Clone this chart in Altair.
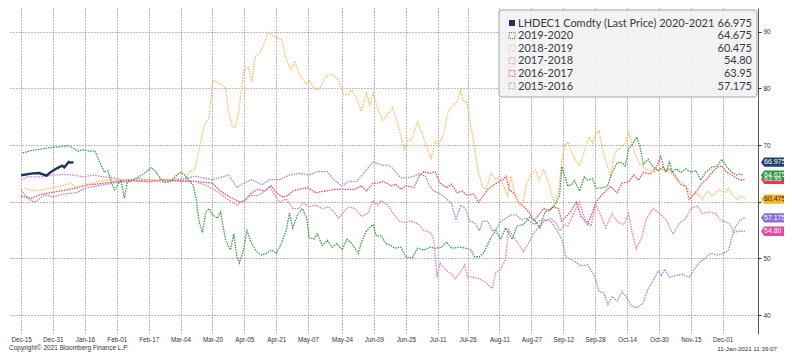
import altair as alt
import pandas as pd

W, H = 750, 326
START = pd.Timestamp("2015-12-15", tz="UTC")

# ---------------- data (day offset from Dec-15, price) ----------------
d_2021 = [0, 5, 9, 12.8, 14.8, 18, 20.6, 21.7, 23.9, 24.7, 26.3]
v_2021 = [64.67, 64.96, 65.06, 64.6, 65.2, 65.9, 66.36, 66.07, 67.03, 66.9, 66.975]

d_2020 = [0.8, 4.9, 9.9, 15.8, 19.7, 23.8, 26.3, 28.8, 31.2, 34.5, 37, 39.5, 41.9, 43.6, 45.2, 46.9, 48.5, 50.1, 51.8, 53.4,
          55.9, 59.2, 62.5, 65.3, 67.4, 69.9, 72.3, 75.6, 78.1, 80.1, 82.2, 84.7, 86.3, 87.9, 88.6, 89.3, 91, 92.7, 94.4, 96,
          98.5, 100.1, 102.6, 105, 106.7, 108.3, 109.5, 111.6, 113.3, 115.7, 118.2, 120.7, 123.1, 125.6, 128.1, 130.5, 133,
          134.6, 136.3, 138.7, 141.2, 143.3, 144.5, 147, 148.6, 151.1, 153.6, 156, 158.5, 161, 163.5, 166, 169.2, 170.8, 173.3,
          176.6, 178.2, 180.7, 183.1, 185.6, 187.2, 190.5, 193, 196.3, 198.8, 202, 205.4, 207.8, 211, 213.5, 216, 220, 223.2,
          225.7, 227.4, 229.9, 232.4, 235.7, 238.2, 240.6, 243.1, 246.4, 248.8, 252.1, 255.4, 257.9, 260.3, 262.8, 265.3,
          267.7, 270.2, 271.3, 272.6, 274.3, 276, 277.6, 280.1, 282.6, 284.2, 286.7, 288.3, 290.8, 294.1, 296.6, 299, 301.5,
          303.1, 304.8, 306.4, 308.9, 310.5, 312.2, 314.6, 317.1, 319.6, 322, 323.7, 325.3, 326.6, 328.6, 331.1, 333.6, 336,
          338.5, 341, 343.4, 346.7, 349.2, 351.6, 354.1, 356.6, 359, 360.7, 362.3]
v_2020 = [68.6, 69.0, 69.3, 69.6, 69.7, 69.9, 69.4, 68.9, 69.2, 68.9, 69.0, 66.9, 65.2, 65.5, 63.5, 62.1, 63.0, 63.8, 60.7, 63.5,
          63.8, 64.4, 65.2, 66.0, 65.4, 64.1, 63.5, 63.8, 64.7, 65.2, 64.7, 63.5, 63.0, 60.4, 58.2, 56.5, 54.6, 58.2, 58.8, 57.7,
          57.1, 58.2, 53.2, 51.5, 54.3, 50.3, 49.2, 51.5, 54.9, 52.6, 51.2, 50.6, 50.9, 51.5, 50.9, 52.6, 54.9,
          58.0, 55.4, 57.7, 58.8, 57.1, 53.7, 53.4, 54.3, 52.3, 53.2, 52.0, 52.6, 51.5, 53.4, 52.6, 50.9, 52.9, 54.9,
          56.0, 54.0, 54.0, 52.6, 52.3, 51.8, 52.0, 50.3, 50.1, 51.8, 51.5, 52.0, 51.8, 52.0, 52.9, 51.8, 52.0, 51.8,
          51.5, 50.3, 50.3, 51.2, 53.7, 54.9, 53.4, 55.4, 53.4, 55.7, 56.0, 57.4, 56.6, 55.4, 58.2, 58.5,
          59.4, 61.1, 66.2, 64.7, 62.8, 63.0, 63.8, 61.9, 64.4, 63.8, 64.1, 62.4, 62.4, 62.7, 65.2, 66.9, 66.9,
          66.3, 69.4, 70.0, 71.4, 69.7, 66.6, 67.5, 66.1, 65.5, 66.1, 65.2, 67.2, 65.2, 65.8, 65.2, 65.8, 65.2,
          65.5, 63.8, 65.2, 66.1, 66.3, 67.5, 66.1, 65.2, 64.7, 64.9, 64.675]

d_2019 = [1.7, 6.6, 13.2, 19.7, 24.7, 28, 33, 37.8, 42.8, 47.7, 52, 58, 64, 70, 76, 82, 85.5, 87, 89.4, 91.9, 94.4, 96, 96.8,
          100.1, 102.6, 104.2, 105.9, 107.5, 109.2, 111.6, 114.1, 115.7, 117.4, 119.8, 122.3, 124, 126.4, 128.9, 130.6, 133,
          135.5, 137.2, 139.6, 142.9, 144.5, 147, 149.4, 152.7, 156, 159.3, 161.8, 164.2, 165.9, 169.2, 170.8, 173.3, 174.9,
          176.6, 179, 181.5, 184, 186.4, 188.9, 192.2, 193.8, 196.3, 198.8, 201.2, 203.7, 205.7, 207.8, 209.5, 211.8, 214.2,
          216.5, 218.8, 220.4, 221.9, 223.5, 225.9, 229.2, 231.6, 233.3, 235.8, 238.3, 240, 241.7, 244.1, 245.8, 247.4, 249.1,
          251.6, 253.2, 255.6, 258.1, 259.8, 262.2, 264.7, 267.2, 269.6, 271.3, 272.9, 274.5, 276, 278, 280.1, 282.6, 285,
          286.7, 288.3, 290, 291.6, 293.3, 295.7, 297.4, 299, 300.7, 303.1, 304.8, 306.4, 308.1, 310.5, 313, 315.5, 317.9,
          320.4, 322.9, 325.3, 327, 329.4, 331.9, 334.4, 336.5, 339.3, 341.8, 344.3, 346.7, 350, 353.3, 354.9, 356.6, 359,
          361.5, 363.2]
v_2019 = [62.4, 61.9, 62.3, 62.7, 63.3, 62.4, 63.0, 63.5, 63.8, 64.1, 63.9, 63.5, 63.9, 63.6, 64.0, 64.2, 65.5, 65.6, 69.5, 73.5,
          74.9, 81.1, 81.4, 80.8, 80.0, 75.8, 73.2, 73.1, 75.8, 83.1, 83.7, 81.1, 85.6, 86.2, 88.2, 89.9, 89.3, 88.8, 88.8, 85.1,
          83.4, 84.8, 82.5, 80.8, 81.4, 80.0, 79.7, 82.0, 82.5, 81.4, 78.9, 78.9, 79.8, 77.5, 76.0, 79.4, 76.9,
          79.2, 76.3, 74.4, 75.5, 76.6, 73.8, 69.3, 70.7, 71.2, 74.1, 72.1, 69.5, 67.6, 70.7, 70.1, 71.8, 75.8,
          76.9, 77.7, 79.7, 77.7, 77.7, 72.9, 65.6, 62.5, 62.2, 65.0, 63.9, 64.5, 63.1, 61.1, 64.5, 61.9, 59.9,
          59.4, 62.8, 64.7, 65.6, 63.9, 65.6, 63.3, 59.9, 61.6, 67.3, 70.1, 70.5, 68.9, 67.5, 66.3, 68.9, 71.4,
          70.3, 72.0, 72.5, 69.4, 67.2, 64.4, 68.0, 69.2, 69.4, 70.3, 72.2, 70.3, 68.3, 66.6, 65.8, 65.5, 65.2,
          65.8, 65.5, 65.2, 64.7, 63.5, 63.3, 62.4, 61.0, 61.6, 60.4, 61.9, 61.0, 62.1, 61.6, 62.4, 61.3, 60.4,
          61.0, 60.475]

d_2018 = [0, 3.3, 9.9, 16.4, 22.2, 26.3, 31.2, 36.2, 41.1, 46, 49.3, 54.2, 59.2, 64.1, 69, 75.6, 82.2, 87, 93.5, 99.3, 103.4,
          108.3, 111.6, 114.9, 119, 122.3, 124.8, 127.3, 129.7, 133, 136.3, 139.6, 141.2, 144.5, 147.8, 151.1, 154.4, 156.9,
          159.3, 161.8, 164.3, 167.5, 170.8, 174.1, 176.6, 179, 180.6, 184, 187.2, 189.7, 193, 195.5, 199.6, 202, 205.4, 207,
          207.8, 208.6, 210.2, 212.7, 216, 217.7, 220.2, 222.6, 224, 226.5, 229.9, 233.1, 236.4, 238, 240.5, 243, 244.6,
          246.2, 249.5, 252, 254.4, 256.9, 259.4, 262.6, 265.8, 268.2, 270.6, 272.3, 274.3, 277.6, 280.1, 282.6, 285.9,
          288.3, 290.8, 293.3, 296.6, 299, 302.3, 304.8, 306.4, 308.6, 311.4, 313.8, 317.1, 320.4, 323.7, 327, 330.3, 333.6,
          336, 339.3, 341.8, 345.1, 348.4, 350.8, 353.3, 355.8, 357.4, 359.9, 363.2]
v_2018 = [63.8, 64.4, 64.4, 64.7, 64.8, 64.7, 64.4, 64.7, 64.4, 64.3, 63.8, 63.9, 64.1, 63.8, 63.8, 63.9, 63.8, 63.6, 62.8, 61.6, 60.5,
          59.4, 60.2, 61.1, 61.1, 61.9, 62.8, 61.1, 59.9, 60.5, 58.8, 58.8, 59.9, 59.1, 59.4, 58.8, 59.1, 58.2,
          57.1, 58.2, 59.1, 58.8, 57.4, 58.0, 60.2, 59.4, 60.2, 59.4, 57.7, 56.6, 56.3, 56.6, 56.0, 54.9, 54.6, 53.4,
          50.3, 46.7, 49.2, 48.1, 47.2, 46.4, 47.5, 48.9, 46.7, 46.7, 46.4, 45.8, 44.7, 47.5, 48.1, 49.8, 55.1,
          54.3, 52.6, 51.2, 52.6, 54.3, 55.4, 56.6, 57.1, 56.3, 54.9, 56.0, 55.7, 58.2, 59.9, 57.1, 55.7,
          59.6, 57.6, 55.4, 57.9, 56.5, 56.0, 57.9, 54.8, 51.7, 53.7, 57.1, 58.8, 57.9, 56.8, 54.3, 56.2, 57.1,
          58.8, 59.3, 57.9, 58.2, 57.9, 56.8, 56.5, 56.0, 54.6, 54.8, 54.8]

d_2017 = [0, 2.5, 5, 10, 18, 26, 32, 40, 48, 56, 64, 72, 80, 87, 93, 96, 100, 105, 110, 112.4, 115.7, 119, 122.3, 125.6, 128.1,
          131.4, 133.8, 136.3, 139.6, 143.7, 147.8, 152.7, 157.7, 162.6, 167.5, 170.8, 173.3, 176.6, 179, 181.5, 183.9, 185.6,
          188, 190.5, 193, 197.1, 199.6, 202, 205.4, 207.8, 210.1, 213.5, 215.9, 218.8, 221.4, 223.8, 227, 229.4, 231.9,
          234.3, 237.6, 240, 241.7, 243.3, 244.9, 247.4, 249.9, 252.3, 254.8, 257.2, 259.7, 262.2, 264.6, 267.1, 269.6,
          271.2, 273.6, 276.1, 278.6, 280.9, 284.2, 286.7, 288.3, 290.8, 293.3, 295.7, 299, 301.5, 304.8, 307.2, 309.7,
          312.2, 315.5, 318.8, 320.9, 322.9, 325.3, 328.6, 331.1, 333.6, 335.2, 336.8, 339.3, 341.8, 344.3, 346.7, 349.2,
          351.6, 354.1, 356.6, 359, 361.5, 363.2]
v_2017 = [61.0, 60.8, 60.6, 61.3, 61.8, 62.3, 62.9, 63.2, 63.6, 63.8, 63.5, 63.9, 63.6, 63.6, 63.4, 63.3, 61.9, 60.8, 59.9, 60.2, 61.6,
          62.2, 61.9, 62.8, 61.6, 60.8, 61.1, 61.9, 62.2, 62.5, 61.6, 61.9, 62.2, 62.2, 62.2, 62.8, 61.9, 63.3, 63.3, 63.6,
          63.2, 62.8, 63.1, 62.2, 62.8, 62.5, 64.5, 65.3, 65.0, 65.3, 63.3, 62.5, 63.1, 61.6, 61.9, 61.1, 61.4, 59.9, 61.1,
          62.2, 63.1, 63.6, 63.9, 64.5, 62.2, 61.4, 59.7, 59.1, 58.2, 56.6, 57.7, 58.8, 58.5, 59.1, 58.8,
          56.6, 57.4, 58.5, 59.9, 57.4, 56.0, 58.2, 59.9, 61.0, 61.9, 62.7, 61.6, 63.3, 63.5, 64.7, 63.8,
          65.2, 64.9, 66.1, 68.0, 65.5, 65.8, 64.4, 63.0, 62.7, 60.4, 61.0, 62.1, 63.3, 64.1, 65.2, 66.1,
          66.3, 65.2, 64.7, 64.1, 63.8, 63.95]

d_2016 = [0, 2, 4, 6.6, 9, 12, 16, 22, 28, 32, 40, 48, 56, 64, 72, 80, 87, 91.9, 96, 100, 104.2, 108.3, 111.6, 115.7, 120.7,
          124.8, 129.7, 134.6, 139.6, 144.5, 148.6, 153.6, 156.9, 161, 164.3, 168.4, 172.5, 176.6, 179, 181.5, 183.9, 186.4,
          190.5, 193.8, 197.1, 199.6, 202.9, 204.5, 207, 210.4, 213.5, 215.9, 218.2, 220.6, 222.9, 225.1, 227.5, 230, 231.6,
          234, 236.5, 238.2, 240.8, 243.3, 245.8, 248.3, 250.9, 253.3, 255, 257.4, 259.9, 262.4, 265.7, 269, 271.5, 273.2,
          274.3, 277.6, 280.9, 284.2, 287.5, 290, 292.4, 294.4, 296.6, 299, 301.5, 304, 306.4, 308.9, 312.2, 314.6, 317.1,
          319.6, 321.2, 322.9, 325.3, 328.6, 331.9, 335.2, 337.7, 340.1, 343.4, 345.9, 349.2, 352.5, 354.9, 356.6, 358.2,
          360.7, 363.2]
v_2016 = [62.0, 61.2, 60.5, 59.9, 60.5, 61.2, 60.9, 61.4, 61.6, 62.4, 62.9, 63.4, 63.6, 63.9, 63.4, 63.9, 64.5, 64.2, 63.9, 64.3,
          64.7, 62.5, 63.3, 63.9, 63.0, 63.9, 63.9, 64.7, 65.0, 64.7, 65.3, 65.3, 63.9, 62.8, 63.6, 63.6, 65.3, 67.0, 66.7,
          66.4, 66.5, 65.9, 64.2, 64.2, 64.5, 65.0, 64.5, 63.1, 61.9, 61.4, 60.5, 59.7, 56.8, 59.4, 58.8, 56.6, 56.3, 54.9,
          56.6, 56.6, 54.9, 55.1, 56.6, 57.1, 57.7, 57.7, 56.8, 57.1, 56.6, 56.0, 56.6, 56.8, 56.6, 54.9, 53.2, 50.3,
          50.1, 49.5, 48.7, 48.9, 47.0, 44.2, 43.9, 41.9, 43.3, 42.5, 44.2, 43.0, 41.6, 41.3, 42.2, 44.7, 46.1,
          47.8, 47.0, 48.1, 46.7, 47.0, 47.2, 46.7, 48.1, 49.2, 50.1, 50.9, 50.6, 50.9, 51.5, 53.7, 55.4,
          56.8, 57.175]

legend_names = ["LHDEC1 Comdty (Last Price) 2020-2021", "2019-2020", "2018-2019", "2017-2018", "2016-2017", "2015-2016"]
last_values = [66.975, 64.675, 60.475, 54.80, 63.95, 57.175]
last_labels = ["66.975", "64.675", "60.475", "54.80", "63.95", "57.175"]
line_colors = ["#1b365d", "#3a9a45", "#f5bf66", "#e27cbf", "#ec4664", "#9d86d2"]
tag_colors = ["#23406a", "#2f9640", "#f3b526", "#e5489e", "#e93a55", "#8c6fd0"]
tag_text_colors = ["#ffffff", "#ffffff", "#222222", "#ffffff", "#ffffff", "#ffffff"]
tick_days = [0, 16, 32, 48, 64, 80, 96, 112, 128, 144, 161, 177, 193, 209, 224, 240, 256, 272, 288, 304, 320, 336, 352]
y_ticks = [40, 50, 60, 70, 80, 90]
series_days = [d_2021, d_2020, d_2019, d_2018, d_2017, d_2016]
series_vals = [v_2021, v_2020, v_2019, v_2018, v_2017, v_2016]


def ms(days):
    return [int((START + pd.Timedelta(days=float(d))).timestamp() * 1000) for d in days]


xenc = alt.X("t:T", title="",
             scale=alt.Scale(type="utc", domain=ms([-6.56, 369.7])),
             axis=alt.Axis(values=ms(tick_days), labelExpr="utcFormat(datum.value, '%b-%d')", orient="bottom",
                           domain=False, ticks=False, labelPadding=2, labelFontSize=6.3,
                           labelAngle=0, labelOverlap=False))
yenc = alt.Y("v:Q", title="",
             scale=alt.Scale(domain=[36.68, 94.17], nice=False, zero=False),
             axis=alt.Axis(orient="right", values=y_ticks, domain=True, domainColor="#555555",
                           ticks=True, tickSize=3, tickColor="#333333", labelPadding=2,
                           labelExpr="datum.value == 60 ? '' : datum.label",
                           labelFontSize=6.5))

layers = []
draw_order = [5, 4, 3, 2, 1, 0]
for i in draw_order:
    df = pd.DataFrame({"t": ms(series_days[i]), "v": series_vals[i]})
    if i == 0:
        mk = alt.Chart(df).mark_line(color=line_colors[i], strokeWidth=2.4, interpolate="linear")
    else:
        mk = alt.Chart(df).mark_line(color=line_colors[i], strokeWidth=1.3, strokeDash=[1.5, 1.1])
    layers.append(mk.encode(x=xenc, y=yenc))

# legend box
LX0, LX1, LY0, LY1 = 491, W - 1, 2, 89
ROW0, ROWSTEP = 15, 12.6
LFONT = 11
layers.append(alt.Chart(pd.DataFrame({"a": [0]})).mark_rect(
    fill="#f1f1f1", fillOpacity=0.88, stroke="#a5a5a5", strokeWidth=1, cornerRadius=3
).encode(x=alt.value(LX0), x2=alt.value(LX1), y=alt.value(LY0), y2=alt.value(LY1)))

for r, name in enumerate(legend_names):
    yy = ROW0 + r * ROWSTEP
    one = pd.DataFrame({"n": [name], "lv": [last_labels[r]]})
    if r == 0:
        sw = alt.Chart(one).mark_point(shape="square", filled=True, size=36, color=line_colors[r], opacity=1)
    else:
        sw = alt.Chart(one).mark_point(shape="square", filled=False, size=36, color=line_colors[r],
                                       strokeWidth=1, strokeDash=[1, 1], opacity=1)
    layers.append(sw.encode(x=alt.value(LX0 + 13), y=alt.value(yy)))
    layers.append(alt.Chart(one).mark_text(align="left", baseline="middle", font="Lato", fontSize=LFONT,
                                           color="#333b44").encode(
        x=alt.value(LX0 + 19), y=alt.value(yy + 0.5), text="n:N"))
    layers.append(alt.Chart(one).mark_text(align="right", baseline="middle", font="Lato", fontSize=LFONT,
                                           color="#333b44").encode(
        x=alt.value(LX1 - 5), y=alt.value(yy + 0.5), text="lv:N"))

# value tags on the right axis
tag_order = [4, 0, 1, 2, 3, 5]
tags = pd.DataFrame({
    "v": [last_values[i] for i in tag_order],
    "lab": [last_labels[i] for i in tag_order],
    "c": [tag_colors[i] for i in tag_order],
    "tc": [tag_text_colors[i] for i in tag_order],
})
tag_path = "M-1,0 L-0.78,-0.31 L1,-0.31 L1,0.31 L-0.78,0.31 Z"
layers.append(alt.Chart(tags).mark_point(shape=tag_path, filled=True, size=900, opacity=1, strokeWidth=0).encode(
    x=alt.value(W + 18), y=yenc, fill=alt.Fill("c:N", scale=None)))
layers.append(alt.Chart(tags).mark_text(align="left", baseline="middle", font="Liberation Sans", fontSize=7).encode(
    x=alt.value(W + 6), y=yenc, text="lab:N", color=alt.Color("tc:N", scale=None)))

# footer texts
foot = pd.DataFrame({"s": ["Copyright\u00a9 2021 Bloomberg Finance L.P."], "d": ["11-Jan-2021 11:39:07"]})
layers.append(alt.Chart(foot).mark_text(align="left", baseline="middle", font="Liberation Sans", fontSize=6.5,
                                        color="#333333").encode(x=alt.value(1), y=alt.value(H + 14), text="s:N"))
layers.append(alt.Chart(foot).mark_text(align="right", baseline="middle", font="Liberation Sans", fontSize=6.2,
                                        color="#333333").encode(x=alt.value(W + 19), y=alt.value(H + 15), text="d:N"))

chart = alt.layer(*layers).properties(
    width=W, height=H,
    padding={"left": 0, "top": 0, "right": 26, "bottom": 20},
    autosize=alt.AutoSizeParams(type="none"),
    background="white",
).configure_view(stroke=None).configure_axis(
    grid=True, gridColor="#7a7a7a", gridDash=[1, 2], gridWidth=1, gridOpacity=1,
    labelFont="Liberation Sans", labelColor="#333333"
)

chart.save("out.html", embed_options={"renderer": "svg", "actions": False})
